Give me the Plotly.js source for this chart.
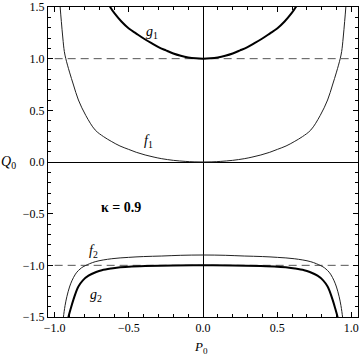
<!DOCTYPE html>
<html>
<head>
<meta charset="utf-8">
<script src="https://cdn.plot.ly/plotly-3.0.1.min.js"></script>
<style>
  html, body { margin: 0; padding: 0; background: #fff; }
  #plot { width: 360px; height: 357px; }
</style>
</head>
<body>
<div id="plot"></div>
<script>
// curves (left and right branches)
let g1X = [-0.64, -0.626, -0.6, -0.55, -0.5, -0.45, -0.4, -0.35, -0.3, -0.25, -0.2, -0.15, -0.1, -0.05, 0,
           0.05, 0.1, 0.15, 0.2, 0.25, 0.3, 0.35, 0.4, 0.45, 0.5, 0.55, 0.6, 0.626, 0.64];
let g1Y = [1.535, 1.5, 1.445, 1.36, 1.292, 1.243, 1.195, 1.152, 1.112, 1.08, 1.05, 1.028, 1.012, 1.003, 1.0,
           1.003, 1.012, 1.028, 1.05, 1.08, 1.112, 1.152, 1.195, 1.243, 1.292, 1.36, 1.445, 1.5, 1.535];

let f1X = [-0.968, -0.963, -0.955, -0.945, -0.935, -0.925, -0.9, -0.873, -0.84, -0.79, -0.727, -0.67, -0.615, -0.56, -0.503, -0.45, -0.39, -0.33, -0.278, -0.2, -0.12, -0.06, 0,
           0.06, 0.12, 0.2, 0.278, 0.33, 0.39, 0.45, 0.503, 0.56, 0.615, 0.67, 0.727, 0.79, 0.84, 0.873, 0.9, 0.925, 0.935, 0.945, 0.955, 0.963, 0.968];
let f1Y = [1.62, 1.5, 1.36, 1.2, 1.07, 1.0, 0.87, 0.745, 0.6, 0.45, 0.31, 0.245, 0.197, 0.155, 0.123, 0.094, 0.068, 0.047, 0.032, 0.016, 0.006, 0.0015, 0,
           0.0015, 0.006, 0.016, 0.032, 0.047, 0.068, 0.094, 0.123, 0.155, 0.197, 0.245, 0.31, 0.45, 0.6, 0.745, 0.87, 1.0, 1.07, 1.2, 1.36, 1.5, 1.62];

let f2X = [-0.945, -0.941, -0.93, -0.918, -0.9, -0.884, -0.86, -0.84, -0.82, -0.795, -0.727, -0.615, -0.503, -0.4, -0.278, -0.15, 0,
           0.15, 0.278, 0.4, 0.503, 0.615, 0.727, 0.795, 0.82, 0.84, 0.86, 0.884, 0.9, 0.918, 0.93, 0.941, 0.945];
let f2Y = [-1.56, -1.5, -1.39, -1.304, -1.21, -1.15, -1.085, -1.05, -1.025, -1.004, -0.965, -0.936, -0.923, -0.915, -0.91, -0.903, -0.9,
           -0.903, -0.91, -0.915, -0.923, -0.936, -0.965, -1.004, -1.025, -1.05, -1.085, -1.15, -1.21, -1.304, -1.39, -1.5, -1.56];

let g2X = [-0.91, -0.907, -0.89, -0.873, -0.855, -0.84, -0.81, -0.772, -0.72, -0.682, -0.62, -0.57, -0.5, -0.39, -0.2, 0,
           0.2, 0.39, 0.5, 0.57, 0.62, 0.682, 0.72, 0.772, 0.81, 0.84, 0.855, 0.873, 0.89, 0.907, 0.91];
let g2Y = [-1.53, -1.5, -1.41, -1.33, -1.255, -1.205, -1.145, -1.1, -1.065, -1.047, -1.03, -1.02, -1.013, -1.007, -1.001, -1.0,
           -1.001, -1.007, -1.013, -1.02, -1.03, -1.047, -1.065, -1.1, -1.145, -1.205, -1.255, -1.33, -1.41, -1.5, -1.53];

// dashed reference levels and their extent
let levels = [1, -1];
let levelSpan = [-1, 1];

// curve labels
let labelText = ["<i>g</i><sub>1</sub>", "<i>f</i><sub>1</sub>", "<i>f</i><sub>2</sub>", "<i>g</i><sub>2</sub>"];
let labelX = [-0.343, -0.37, -0.741, -0.72];
let labelY = [1.25, 0.203, -0.862, -1.288];

let serif = "Liberation Serif, Times New Roman, serif";

let thin = { color: "#222", width: 1, shape: "spline" };
let thick = { color: "#000", width: 2, shape: "spline" };

let data = [
    { x: f1X, y: f1Y, mode: "lines", line: thin },
    { x: f2X, y: f2Y, mode: "lines", line: thin },
    { x: g1X, y: g1Y, mode: "lines", line: thick },
    { x: g2X, y: g2Y, mode: "lines", line: thick }
];

levels.forEach(lv => {
    data.unshift({
        x: levelSpan, y: [lv, lv], mode: "lines",
        line: { color: "#555", width: 1, dash: "8px,5px" }
    });
});

let axisCommon = {
    showline: true, linecolor: "#000", linewidth: 1, mirror: "ticks",
    ticks: "inside", ticklen: 5, tickcolor: "#000", tickwidth: 1,
    showgrid: false, zeroline: true, zerolinecolor: "#000", zerolinewidth: 1,
    tickformat: ".1f", dtick: 0.5, tick0: 0,
    tickfont: { family: serif, size: 12, color: "#000" },
    minor: { dtick: 0.1, ticks: "inside", ticklen: 3, tickcolor: "#000", showgrid: false }
};

let annotations = labelText.map((t, i) => ({
    x: labelX[i], y: labelY[i], xref: "x", yref: "y", text: t, showarrow: false,
    xanchor: "center", yanchor: "middle",
    font: { family: serif, size: 14, color: "#000" }
}));
annotations.push({
    x: -0.552, y: -0.436, xref: "x", yref: "y", text: "<b>κ = 0.9</b>", showarrow: false,
    xanchor: "center", yanchor: "middle",
    font: { family: serif, size: 14, color: "#000" }
});
// axis names, placed in paper units from their pixel spots
annotations.push({
    x: (8 - 48) / 310, y: (317 - 162) / 310, xref: "paper", yref: "paper",
    text: "<i>Q</i><sub>0</sub>", showarrow: false, xanchor: "center", yanchor: "middle",
    font: { family: serif, size: 14, color: "#000" }
});
annotations.push({
    x: (201 - 48) / 310, y: (317 - 347) / 310, xref: "paper", yref: "paper",
    text: "<i>P</i><sub>0</sub>", showarrow: false, xanchor: "center", yanchor: "middle",
    font: { family: serif, size: 13, color: "#000" }
});

let layout = {
    width: 360, height: 357,
    margin: { l: 48, r: 2, t: 7, b: 40 },
    paper_bgcolor: "#fff", plot_bgcolor: "#fff",
    showlegend: false,
    xaxis: Object.assign({}, axisCommon, { range: [-1.045, 1.045] }),
    yaxis: Object.assign({}, axisCommon, { range: [-1.5, 1.5] }),
    annotations: annotations
};

Plotly.newPlot("plot", data, layout, { staticPlot: true });
</script>
</body>
</html>
